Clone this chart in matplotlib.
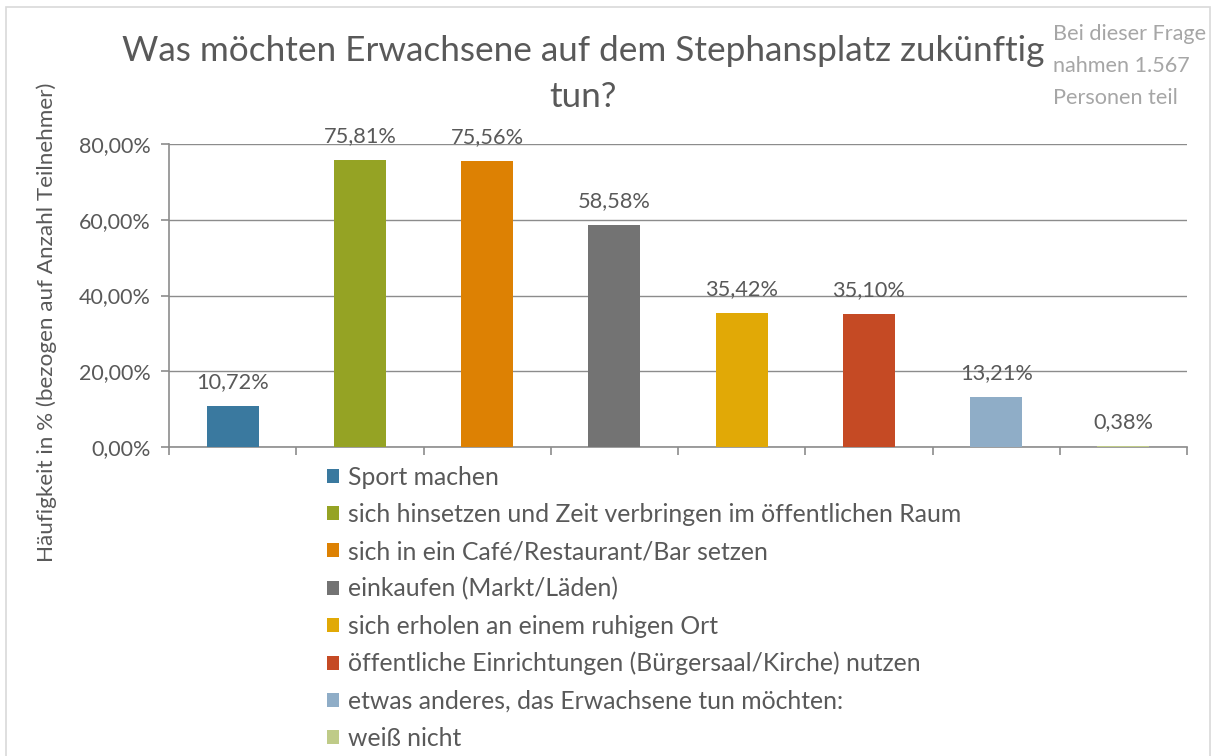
import matplotlib
matplotlib.use("Agg")
import matplotlib.pyplot as plt
from matplotlib.patches import Rectangle
import numpy as np

plt.rcParams['font.family'] = ['Lato', 'DejaVu Sans']

categories = [
    "Sport machen",
    "sich hinsetzen und Zeit verbringen im öffentlichen Raum",
    "sich in ein Café/Restaurant/Bar setzen",
    "einkaufen (Markt/Läden)",
    "sich erholen an einem ruhigen Ort",
    "öffentliche Einrichtungen (Bürgersaal/Kirche) nutzen",
    "etwas anderes, das Erwachsene tun möchten:",
    "weiß nicht",
]
values = [10.72, 75.81, 75.56, 58.58, 35.42, 35.10, 13.21, 0.38]
colors = ["#3A799F", "#95A324", "#DD8103", "#737373",
          "#E1A906", "#C54A24", "#8FADC7", "#BFCB88"]
yticks = [0, 20, 40, 60, 80]
title = "Was möchten Erwachsene auf dem Stephansplatz zukünftig\ntun?"
ylabel = "Häufigkeit in % (bezogen auf Anzahl Teilnehmer)"
note = "Bei dieser Frage\nnahmen 1.567\nPersonen teil"

def fmt(v):
    return f"{v:.2f}".replace(".", ",") + "%"

W, H = 1217, 756
fig = plt.figure(figsize=(W/100, H/100), dpi=100)

# chart border
fig.patches.append(Rectangle((6/W, -0.01), (1210-6)/W, (756-7)/H + 0.01,
                             transform=fig.transFigure, fill=False,
                             edgecolor="#D9D9D9", linewidth=1.2))

ax = fig.add_axes([169/W, 1-447/H, (1187-169)/W, (447-144)/H])
x = np.arange(len(values))
bars = ax.bar(x, values, width=0.41, color=colors, zorder=3)

ax.set_xlim(-0.5, len(values)-0.5)
ax.set_ylim(0, 80)
ax.set_yticks(yticks)
ax.set_yticklabels([fmt(t) for t in yticks])
ax.set_xticks(np.arange(len(values)+1) - 0.5)
ax.set_xticklabels([])
ax.grid(axis='y', color="#8C8C8C", linewidth=1.0, zorder=0)
for s in ["top", "right"]:
    ax.spines[s].set_visible(False)
for s in ["left", "bottom"]:
    ax.spines[s].set_color("#8C8C8C")
    ax.spines[s].set_linewidth(1.2)
ax.tick_params(axis='both', colors="#8C8C8C", length=5.5, width=1.2)
ax.tick_params(axis='y', labelcolor="#595959", labelsize=15.5, pad=8)

for b, v in zip(bars, values):
    ax.annotate(fmt(v), (b.get_x()+b.get_width()/2, v), xytext=(0, 10),
                textcoords="offset points", ha="center", va="bottom",
                fontsize=15.7, color="#595959")

fig.text(47/W, 1-322/H, ylabel, rotation=90, ha="center", va="center",
         fontsize=16.2, color="#595959")

fig.text(583/W, 1-74/H, title, ha="center", va="center", fontsize=25.3,
         color="#595959", linespacing=1.54)

fig.text(1053/W, 1-66/H, note, ha="left", va="center", fontsize=15.6,
         color="#A6A6A6", linespacing=1.74)

leg = fig.legend(handles=list(bars), labels=categories,
                 loc="upper left", bbox_to_anchor=(327/W, 1-466/H),
                 frameon=False, fontsize=17.8, labelcolor="#595959",
                 handlelength=0.5, handleheight=0.5, handletextpad=0.35,
                 labelspacing=0.57, borderpad=0, borderaxespad=0)

fig.savefig("out.png", dpi=100)
